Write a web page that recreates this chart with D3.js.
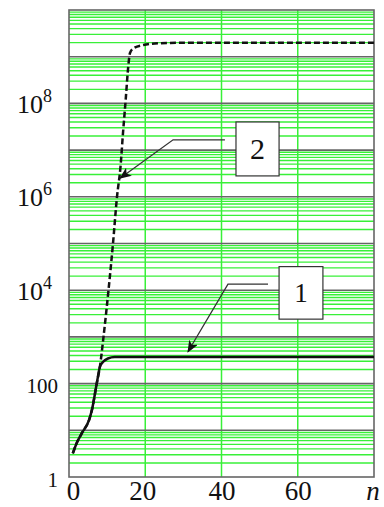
<!DOCTYPE html>
<html>
<head>
<meta charset="utf-8">
<script src="https://cdn.jsdelivr.net/npm/d3@7"></script>
<style>
  body { margin: 0; background: #fff; }
  svg text { font-family: "Liberation Serif", "Times New Roman", serif !important; fill: #111; }
</style>
</head>
<body>
<div id="chart"></div>
<script>
// data
var xTicks = [0, 20, 40, 60];
var yLabelVals = [1, 1e2, 1e4, 1e6, 1e8];
var yLabelExp = [null, null, 4, 6, 8];   // null -> plain number
var yLabelText = ["1", "100", "10", "10", "10"];

// curve 1 (solid)
var n1 = [1, 2, 3.3, 5.3, 6, 7.3, 8.1, 8.9, 10.2, 12, 80];
var v1 = [3.2, 5.3, 8.5, 17, 27, 103, 228, 290, 345, 370, 370];

// curve 2 (dashed)
var n2 = [1, 2, 3.3, 5.3, 6, 7.3, 8.1, 9.05, 10.36, 11.54, 12.59, 13.51, 14.16, 14.87, 15.53, 16.0, 16.87, 19.5, 23.9, 34.4, 80];
var v2 = [3.2, 5.3, 8.5, 17, 27, 103, 228, 1e3, 1e4, 1e5, 1e6, 4.4e6, 2.3e7, 1.2e8, 6e8, 1.2e9, 1.5e9, 1.78e9, 1.95e9, 2.0e9, 2.0e9];

// annotations: label, box [n0, n1, v0, v1], leader path points [n, v]
var notes = [
  { label: "2", box: [43.8, 55.1, 4.0e7, 2.8e6], pts: [[40.9, 1.66e7], [27.3, 1.66e7], [13.4, 2.5e6]], size: 30 },
  { label: "1", box: [55.1, 66.6, 3.2e4, 2.4e3], pts: [[52.2, 1.35e4], [41.7, 1.35e4], [31.2, 480]], size: 27 }
];

var svgWidth = 384, svgHeight = 507;
var margin = { top: 10, right: 10, bottom: 30, left: 69 };
var width = svgWidth - margin.left - margin.right;
var height = svgHeight - margin.top - margin.bottom;

var svg = d3.select("#chart").append("svg")
  .attr("width", svgWidth)
  .attr("height", svgHeight);

var defs = svg.append("defs");
defs.append("marker")
  .attr("id", "arr")
  .attr("viewBox", "0 0 12 10")
  .attr("refX", 11).attr("refY", 5)
  .attr("markerWidth", 12).attr("markerHeight", 10)
  .attr("markerUnits", "userSpaceOnUse")
  .attr("orient", "auto")
  .append("path")
  .attr("d", "M0,0 L12,5 L0,10 L3,5 Z")
  .attr("fill", "#111");

var chart = svg.append("g")
  .attr("transform", `translate(${margin.left}, ${margin.top})`);

var xScale = d3.scaleLinear().domain([0, 80]).range([0, width]);
var yScale = d3.scaleLog().domain([1, 1e10]).range([height, 0]);

// minor log grid
var minor = [];
for (var k = 0; k < 10; k++) {
  for (var m = 2; m <= 9; m++) minor.push(m * Math.pow(10, k));
}
chart.append("g").selectAll("line").data(minor).enter().append("line")
  .attr("x1", 0).attr("x2", width)
  .attr("y1", d => yScale(d)).attr("y2", d => yScale(d))
  .attr("stroke", "#38f038").attr("stroke-width", 1.4);

// vertical grid
chart.append("g").selectAll("line").data(xTicks.slice(1)).enter().append("line")
  .attr("x1", d => xScale(d)).attr("x2", d => xScale(d))
  .attr("y1", 0).attr("y2", height)
  .attr("stroke", "#38f038").attr("stroke-width", 1.5);

// decade lines
var decades = d3.range(1, 10).map(k => Math.pow(10, k));
chart.append("g").selectAll("line").data(decades).enter().append("line")
  .attr("x1", 0).attr("x2", width)
  .attr("y1", d => yScale(d)).attr("y2", d => yScale(d))
  .attr("stroke", "#666").attr("stroke-width", 1.6);

chart.append("rect")
  .attr("width", width).attr("height", height)
  .attr("fill", "none").attr("stroke", "#666").attr("stroke-width", 1.6);

// curves
var line = d3.line()
  .x(d => xScale(d[0]))
  .y(d => yScale(d[1]))
  .curve(d3.curveMonotoneX);

chart.append("path")
  .datum(d3.zip(n1, v1))
  .attr("d", line)
  .attr("fill", "none").attr("stroke", "#111").attr("stroke-width", 2.5);

chart.append("path")
  .datum(d3.zip(n2, v2))
  .attr("d", line)
  .attr("fill", "none").attr("stroke", "#111").attr("stroke-width", 2.5)
  .attr("stroke-dasharray", "6,3");

// annotations
notes.forEach(a => {
  chart.append("path")
    .attr("d", d3.line().x(d => xScale(d[0])).y(d => yScale(d[1]))(a.pts))
    .attr("fill", "none").attr("stroke", "#333").attr("stroke-width", 1.3)
    .attr("marker-end", "url(#arr)");
  var bx = xScale(a.box[0]), by = yScale(a.box[2]);
  var bw = xScale(a.box[1]) - bx, bh = yScale(a.box[3]) - by;
  chart.append("rect")
    .attr("x", bx).attr("y", by).attr("width", bw).attr("height", bh)
    .attr("fill", "#fff").attr("stroke", "#333").attr("stroke-width", 1.2);
  chart.append("text")
    .attr("x", bx + bw / 2).attr("y", by + bh / 2 + a.size * 0.33)
    .attr("text-anchor", "middle")
    .attr("font-size", a.size)
    .text(a.label);
});

// x axis labels
var bottomAxes = d3.axisBottom(xScale).tickValues(xTicks).tickSize(0).tickPadding(0);
var gx = chart.append("g")
  .attr("transform", `translate(0,${height})`)
  .call(bottomAxes);
gx.select(".domain").remove();
gx.selectAll("text")
  .attr("y", 23).attr("dy", 0)
  .attr("dx", (d, i) => i == 0 ? 4 : (i == 1 ? -3 : 0))
  .attr("font-size", 27)
  .attr("fill", "#111");
chart.append("text")
  .attr("x", width - 1).attr("y", height + 23)
  .attr("text-anchor", "middle")
  .attr("font-size", 27)
  .attr("font-style", "italic")
  .text("n");

// y axis labels
var leftAxes = d3.axisLeft(yScale).tickValues(yLabelVals).tickSize(0).tickFormat("");
var gy = chart.append("g").call(leftAxes);
gy.select(".domain").remove();
gy.selectAll(".tick text").each(function(d, i) {
  var t = d3.select(this)
    .attr("dy", 0)
    .attr("fill", "#111");
  if (yLabelExp[i] == null) {
    t.attr("x", -11).attr("y", 9).attr("font-size", 21).text(yLabelText[i]);
  } else {
    t.attr("x", -17).attr("y", 9).attr("font-size", 26);
    t.append("tspan").text(yLabelText[i]);
    t.append("tspan").attr("font-size", 18).attr("dy", -11).text(yLabelExp[i]);
  }
});
</script>
</body>
</html>
